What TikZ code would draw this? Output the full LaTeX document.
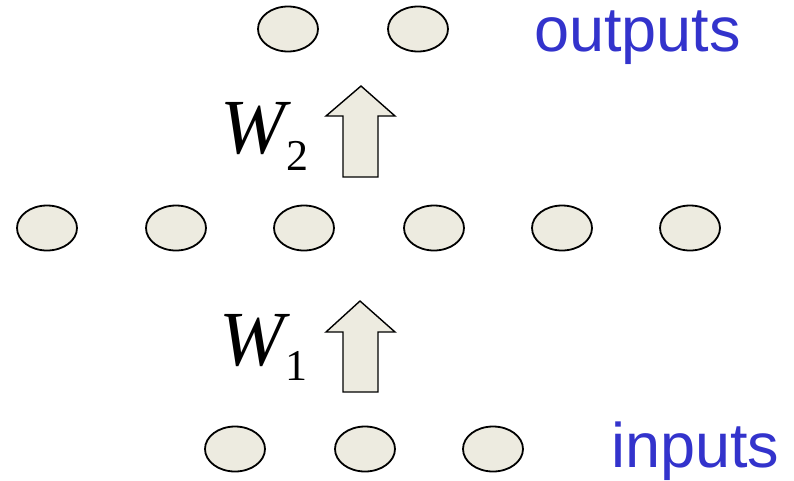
\documentclass[tikz,border=0pt]{standalone}
\usepackage{fontspec}
\setmainfont{Liberation Serif}
\newfontfamily\labfont{Liberation Sans}
\definecolor{nodefill}{HTML}{EDEBE0}
\definecolor{labblue}{HTML}{3333CC}
\tikzset{
  unit/.style={ellipse, draw=black, line width=1.8pt, fill=nodefill, minimum width=60pt, minimum height=45pt, inner sep=0pt},
  blockarrow/.style={draw=black, line width=1.4pt, fill=nodefill, line join=miter},
  lab/.style={anchor=base west, inner sep=0pt, text=labblue, font=\labfont\fontsize{63}{63}\selectfont},
  wlab/.style={anchor=base west, inner sep=0pt, font=\fontsize{78}{78}\selectfont}
}
\usetikzlibrary{shapes.geometric}
\begin{document}
\begin{tikzpicture}[x=1pt,y=-1pt]
\useasboundingbox (0,0) rectangle (794,480);
% output layer
\node[unit] (o1) at (288,29) {};
\node[unit] (o2) at (418,29) {};
% hidden layer
\node[unit] (h1) at (47,228) {};
\node[unit] (h2) at (176,228) {};
\node[unit] (h3) at (304,228) {};
\node[unit] (h4) at (434,228) {};
\node[unit] (h5) at (562,228) {};
\node[unit] (h6) at (690,228) {};
% input layer
\node[unit] (i1) at (235,449) {};
\node[unit] (i2) at (365,449) {};
\node[unit] (i3) at (493,449) {};
% arrows
\draw[blockarrow] (343,177) -- (343,116) -- (326,116) -- (361,86) -- (395,116) -- (378,116) -- (378,177) -- cycle;
\draw[blockarrow] (343,392) -- (343,332) -- (326,332) -- (360,301) -- (395,332) -- (378,332) -- (378,392) -- cycle;
% labels
\node[wlab] (w2) at (220,153) {\itshape W\kern1pt\raisebox{-17pt}{\upshape\fontsize{44}{44}\selectfont 2}};
\node[wlab] (w1) at (219,365) {\itshape W\kern1pt\raisebox{-15pt}{\upshape\fontsize{44}{44}\selectfont 1}};
\node[lab] (outl) at (534,51) {outputs};
\node[lab] (inl) at (611,467) {inputs};
\end{tikzpicture}
\end{document}
